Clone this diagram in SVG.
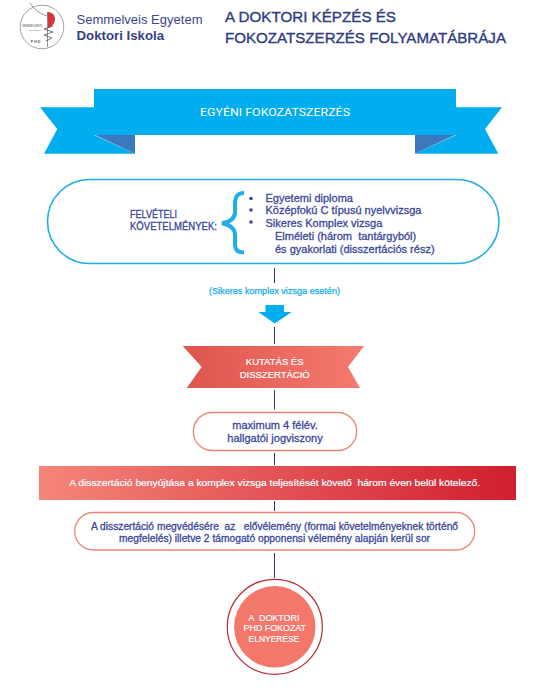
<svg xmlns="http://www.w3.org/2000/svg" width="557" height="691" viewBox="0 0 557 691">
<style>
text{font-family:"Liberation Sans",Arial,sans-serif}
.c{text-anchor:middle}
.navy{fill:#3b479b;stroke:#3b479b;stroke-width:.3}
.w{fill:#fff}
.conn{stroke:#2e3a82;stroke-width:1;fill:none}
.pill{fill:#fff;stroke:#e98478;stroke-width:1.3}
</style>
<defs>
<linearGradient id="rib" x1="0" x2="1" y1="0" y2="0"><stop offset="0" stop-color="#de544e"/><stop offset="1" stop-color="#f57b70"/></linearGradient>
<linearGradient id="bar" x1="0" x2="1" y1="0" y2="0"><stop offset="0" stop-color="#f5857a"/><stop offset="1" stop-color="#d01f2e"/></linearGradient>
</defs>
<rect width="557" height="691" fill="#fff"/>
<g id="logo">
<circle cx="42" cy="27" r="21.800" fill="#fff" stroke="#8a8a8a" stroke-width=".8"/>
<path d="M30 3C34 9 40 14 47 16" fill="none" stroke="#777" stroke-width=".8"/>
<path d="M47.500 12C52 12 55 15 55 19C55 24 51 27 48 28Z" fill="#d8343a"/>
<path d="M47.500 12V47" fill="none" stroke="#666" stroke-width=".7"/>
<path d="M53 26L44 29L53 32L44 35L52 38L46 41" fill="none" stroke="#444" stroke-width=".7"/>
<text x="32" y="26.500" class="c" font-size="3" fill="#555">SEMMELWEIS</text>
<text x="35" y="30.500" class="c" font-size="2.500" fill="#777">EGYETEM</text>
<text x="36" y="43" class="c" font-size="3.500" font-weight="bold" letter-spacing="1" fill="#555">PHD</text>
</g>
<g id="header">
<text x="76.500" y="24" font-size="13" fill="#3c4590" textLength="126" lengthAdjust="spacingAndGlyphs">Semmelveis Egyetem</text>
<text x="76.500" y="39.500" font-size="13" font-weight="bold" fill="#343f86" textLength="87.500" lengthAdjust="spacingAndGlyphs">Doktori Iskola</text>
<text x="225" y="22" font-size="15" fill="#2e3a82" stroke="#2e3a82" stroke-width=".35" textLength="171" lengthAdjust="spacingAndGlyphs">A DOKTORI KÉPZÉS ÉS</text>
<text x="225" y="43" font-size="15" fill="#2e3a82" stroke="#2e3a82" stroke-width=".35" textLength="281" lengthAdjust="spacingAndGlyphs">FOKOZATSZERZÉS FOLYAMATÁBRÁJA</text>
</g>
<g id="connectors">
<path class="conn" d="M274.500 268V283M274.500 327V344M274.500 390V409.500M274.500 453V465M274.500 501V511M274.500 553V578"/>
</g>
<g id="banner">
<path d="M40 107.300H94V135L135 153.700H44L57.300 129Z" fill="#00adee"/>
<path d="M502 107.300H456V135L415 153.700H498.300L485 129Z" fill="#00adee"/>
<path d="M95 135H135V153.700Z" fill="#3b78c0"/>
<path d="M455 135H415V153.700Z" fill="#3b78c0"/>
<rect x="94" y="89" width="362" height="46" fill="#00adee"/>
<text x="275" y="116" class="c w" font-size="11.500" style="font-family:Roboto,sans-serif" textLength="150" lengthAdjust="spacingAndGlyphs">EGYÉNI FOKOZATSZERZÉS</text>
</g>
<g id="requirements">
<rect x="47.500" y="179.500" width="451.500" height="84" rx="42" fill="#fff" stroke="#1faee6" stroke-width="1.600"/>
<text x="130" y="218" font-size="10" class="navy" textLength="47" lengthAdjust="spacingAndGlyphs">FELVÉTELI</text>
<text x="130" y="229.500" font-size="10" class="navy" textLength="87" lengthAdjust="spacingAndGlyphs">KÖVETELMÉNYEK:</text>
<path d="M244 193C237 193 235 197 235 204V212C235 219 230 222 222 223.300C230 225 235 228 235 235V243C235 250 237 252.500 244 252.500" fill="none" stroke="#1eaee8" stroke-width="4"/>
<circle cx="251" cy="198.500" r="1.800" fill="#3b479b"/>
<circle cx="251" cy="210" r="1.800" fill="#3b479b"/>
<circle cx="251" cy="222" r="1.800" fill="#3b479b"/>
<text x="265.500" y="202" font-size="11" class="navy">Egyetemi diploma</text>
<text x="265.500" y="214" font-size="11" class="navy">Középfokú C típusú nyelvvizsga</text>
<text x="265.500" y="227" font-size="11" class="navy">Sikeres Komplex vizsga</text>
<text x="275" y="240" font-size="11" class="navy" xml:space="preserve">Elméleti (három  tantárgyból)</text>
<text x="275" y="253" font-size="11" class="navy">és gyakorlati (disszertációs rész)</text>
</g>
<g id="condition">
<text x="274.500" y="294" class="c" font-size="8.500" fill="#19aee8" stroke="#19aee8" stroke-width=".25" textLength="131" lengthAdjust="spacingAndGlyphs">(Sikeres komplex vizsga esetén)</text>
<path d="M265.500 305H284V312H291.700L274.700 323.500L258.300 312H265.500Z" fill="#00adee"/>
</g>
<g id="research">
<path d="M182.700 346H364L348 367L360 388H186.700L201.700 367Z" fill="url(#rib)"/>
<text x="274.700" y="365" class="c w" font-size="9.500" stroke="#fff" stroke-width=".2">KUTATÁS ÉS</text>
<text x="274.700" y="378" class="c w" font-size="9.500" stroke="#fff" stroke-width=".2">DISSZERTÁCIÓ</text>
</g>
<g id="semesters">
<rect x="193.300" y="412.500" width="163.400" height="38" rx="19" class="pill"/>
<text x="275" y="428.500" class="c navy" font-size="11">maximum 4 félév.</text>
<text x="275" y="442" class="c navy" font-size="11">hallgatói jogviszony</text>
</g>
<g id="deadline">
<rect x="39" y="466" width="477" height="34" fill="url(#bar)"/>
<text x="274.700" y="485.500" class="c w" font-size="9.500" stroke="#fff" stroke-width=".2" xml:space="preserve" textLength="411" lengthAdjust="spacingAndGlyphs">A disszertáció benyújtása a komplex vizsga teljesítését követő  három éven belül kötelező.</text>
</g>
<g id="defence">
<rect x="74.700" y="512.500" width="400" height="37.500" rx="18.700" class="pill"/>
<text x="274.500" y="530" class="c navy" font-size="10" xml:space="preserve" textLength="367" lengthAdjust="spacingAndGlyphs">A disszertáció megvédésére  az   elővélemény (formai követelményeknek történő</text>
<text x="274.500" y="541.500" class="c navy" font-size="10" textLength="311" lengthAdjust="spacingAndGlyphs">megfelelés) illetve 2 támogató opponensi vélemény alapján kerül sor</text>
</g>
<g id="degree">
<circle cx="274.800" cy="626.800" r="47.500" fill="#fff" stroke="#b52a30" stroke-width="1.200"/>
<circle cx="274.800" cy="626.800" r="40.700" fill="#f4776c"/>
<text x="274" y="621" class="c w" font-size="8.800" stroke="#fff" stroke-width=".15" xml:space="preserve" textLength="51" lengthAdjust="spacingAndGlyphs">A  DOKTORI</text>
<text x="274.800" y="631" class="c w" font-size="8.800" stroke="#fff" stroke-width=".15" textLength="62.500" lengthAdjust="spacingAndGlyphs">PHD FOKOZAT</text>
<text x="274" y="641.500" class="c w" font-size="8.800" stroke="#fff" stroke-width=".15" textLength="51" lengthAdjust="spacingAndGlyphs">ELNYERÉSE</text>
</g>
</svg>
